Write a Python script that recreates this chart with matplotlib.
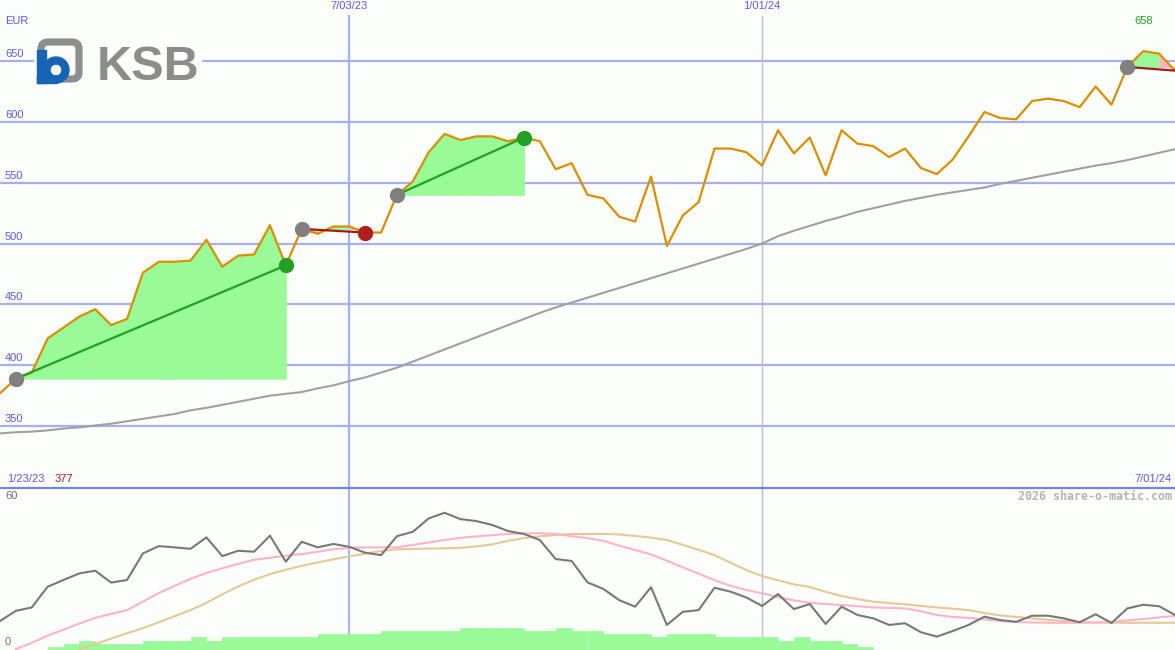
# KSB weekly chart, share-o-matic style

import numpy as np
import pandas as pd
import matplotlib
matplotlib.use('Agg')
import matplotlib.pyplot as plt
import matplotlib.dates as mdates
import matplotlib.transforms as mtrans
from matplotlib.patches import FancyBboxPatch, Rectangle, Wedge

# ---- data (weekly) ----
dates = pd.date_range('2023-01-30', periods=75, freq='7D')

price = [377, 389, 394, 422, 431, 440, 446, 433, 438, 476,
         485, 485, 486, 503, 481, 490, 491, 515, 482, 512,
         508, 514, 514, 509, 509, 540, 551, 575, 590, 585,
         588, 588, 584, 587, 584, 561, 566, 540, 537, 522,
         518, 555, 498, 523, 534, 578, 578, 575, 564, 593,
         574, 587, 556, 593, 582, 580, 571, 578, 562, 557,
         569, 588, 608, 603, 602, 617, 619, 617, 612, 629,
         614, 645, 658, 656, 642]

avg = [344, 345, 345.5, 346.5, 348, 349, 350.5, 352, 354, 356,
       358, 360, 363, 365, 367.5, 370, 372.5, 375, 376.5, 378,
       381, 383.5, 387, 390, 394, 398, 403, 408, 413, 418,
       423, 428, 433, 438, 443, 447.5, 451.5, 455.5, 459.5, 463.5,
       467.5, 471.5, 475.5, 479.5, 483.5, 487.5, 491.5, 495.5, 500, 506,
       510.5, 514.5, 518.5, 522, 526, 529, 532, 535, 537.5, 540,
       542, 544, 546, 549, 551.5, 554, 556.5, 559, 561.5, 564,
       566, 568.5, 571.5, 574.5, 577.5]

osc = [11.5, 15.7, 17.1, 25.6, 28.4, 31.1, 32.2, 27.3, 28.4, 39.3,
       42.3, 41.8, 41.2, 45.9, 38.2, 40.4, 40.0, 46.6, 35.9, 44.1,
       41.8, 43.2, 42.0, 39.6, 38.6, 46.4, 48.2, 53.7, 56.0, 53.4,
       52.6, 51.0, 48.5, 47.3, 44.8, 37.0, 36.2, 27.4, 24.7, 20.1,
       17.4, 25.4, 9.9, 15.3, 16.0, 25.2, 23.6, 21.2, 17.7, 22.6,
       16.4, 18.5, 10.3, 17.4, 14.0, 12.6, 9.9, 10.6, 6.9, 5.1,
       7.4, 9.9, 13.3, 11.9, 11.2, 13.7, 13.7, 12.6, 11.0, 14.3,
       10.7, 16.7, 18.2, 17.6, 14.0]

nan = np.nan
fast = [nan, 0, 2.5, 5.5, 8, 10.5, 12.8, 14.5, 16, 19.5,
        23, 26, 28.8, 31.3, 33.2, 35, 36.7, 37.5, 38.4, 39,
        40, 41, 41.6, 41.8, 41.8, 41.8, 42.8, 43.8, 44.8, 45.7,
        46.3, 46.8, 47.3, 47.5, 47.6, 47.3, 46.4, 45.6, 44.5, 42.5,
        40.7, 38.9, 36.3, 33.6, 31, 28.3, 26, 24.3, 22.9, 21.4,
        20, 19, 18.5, 18.1, 17.6, 17.1, 16.9, 16.7, 15.5, 14,
        13.2, 12.8, 12.2, 11.5, 11.1, 10.9, 10.8, 10.8, 10.8, 10.9,
        11.2, 11.8, 12.3, 13, 13.6]

slow = [nan, nan, nan, nan, nan, 0, 2, 4.3, 6.5, 8.6,
        11, 13.5, 16, 19, 22.5, 25.7, 28.5, 30.8, 32.6, 34.2,
        35.6, 36.9, 38.1, 39.2, 40.3, 41, 41.1, 41.3, 41.4, 41.6,
        42.2, 43, 44.5, 45.6, 46.3, 46.9, 47.3, 47.3, 47.3, 47.1,
        46.5, 45.8, 44.8, 42.8, 40.8, 38.6, 35.5, 32.5, 30, 28.3,
        26.6, 25.5, 23.5, 21.8, 20.5, 19.5, 18.9, 18.4, 17.7, 17.1,
        16.6, 16, 14.8, 13.8, 13.2, 12.6, 12, 11.5, 11.1, 10.9,
        10.8, 10.8, 10.8, 10.8, 10.8]

vol = [0, 0, 0, 1, 2, 3, 2, 2, 2, 3,
       3, 3, 4, 3, 4, 4, 4, 4, 4, 4,
       5, 5, 5, 5, 6, 6, 6, 6, 6, 7,
       7, 7, 7, 6, 6, 7, 6, 6, 5, 5,
       5, 4, 5, 5, 5, 4, 4, 4, 4, 3,
       4, 3, 3, 2, 1, 0, 0, 0, 0, 0,
       0, 0, 0, 0, 0, 0, 0, 0, 0, 0,
       0, 0, 0, 0, 0]

# (start index, end index, still open)
trades = [(1, 18, False), (19, 23, False), (25, 33, False), (71, 74, True)]

ylevels = [350, 400, 450, 500, 550, 600, 650]
vmarks = ['2023-07-03', '2024-01-01']
vlabels = ['7/03/23', '1/01/24']

# ---- style ----
BG = '#fcfefc'
BLUE_TXT = '#5a5af0'
GRID = '#a3b1f2'
ORANGE = '#db8e00'
GREEN_FILL = '#98fb98'
PINK_FILL = '#ffb6c1'
GREEN_LINE = '#22a022'
RED_LINE = '#a01c1c'

x = mdates.date2num(dates.to_pydatetime())
price = np.array(price, dtype=float)
vx = [mdates.date2num(pd.Timestamp(d).to_pydatetime()) for d in vmarks]

W, H = 1175, 650
fig = plt.figure(figsize=(W / 100, H / 100), dpi=100, facecolor=BG)

top_h = 487
ax = fig.add_axes([0, (H - top_h) / H, 1, top_h / H])
ax.set_facecolor(BG)
ax.set_xlim(x[0], x[-1])
ax.set_ylim(300, 700)
for s in ax.spines.values():
    s.set_visible(False)
ax.set_xticks([])
ax.set_yticks([])

for v in ylevels:
    ax.axhline(v, color=GRID, lw=1.6, zorder=1)
ax.axvline(vx[0], ymin=0, ymax=(top_h - 16) / top_h, color=GRID, lw=1.6, zorder=1)
ax.axvline(vx[1], ymin=0, ymax=(top_h - 16) / top_h, color='#b4bbe4', lw=1.0, zorder=1)

# trade fills and lines
for a, b, is_open in trades:
    base = price[a]
    for k in range(a, b):
        c = GREEN_FILL if price[k + 1] >= base else PINK_FILL
        ax.fill_between(x[k:k + 2], price[k:k + 2], base, facecolor=c,
                        edgecolor=c, lw=0.6, zorder=2)

ax.plot(x, avg, color='#a0a0a0', lw=1.5, zorder=3)
ax.plot(x, price, color=ORANGE, lw=1.6, zorder=4)

for a, b, is_open in trades:
    win = price[b] >= price[a]
    lc = GREEN_LINE if win else RED_LINE
    ax.plot([x[a], x[b]], [price[a], price[b]], color=lc, lw=1.6, zorder=5)
    ax.plot(x[a], price[a], 'o', ms=10, color='#808080', zorder=6)
    if not is_open:
        ax.plot(x[b], price[b], 'o', ms=10, color=GREEN_LINE if win else '#b01e1e', zorder=6)

lab = mtrans.blended_transform_factory(ax.transAxes, ax.transData)
lab = mtrans.offset_copy(lab, fig=fig, x=5, y=2, units='dots')
for v in ylevels:
    ax.text(0, v, str(v), transform=lab, ha='left', va='bottom',
            color=BLUE_TXT, fontsize=8, family='Liberation Sans', zorder=7)

toplab = mtrans.blended_transform_factory(ax.transData, ax.transAxes)
for xv, t in zip(vx, vlabels):
    ax.text(xv, 0.997, t, transform=toplab, ha='center', va='top',
            color=BLUE_TXT, fontsize=8, family='Liberation Sans')

imax = int(np.argmax(price))
ax.text(x[imax], 1 - 21 / top_h, '%d' % price[imax], transform=toplab, ha='center',
        va='center', color=GREEN_LINE, fontsize=8, family='Liberation Sans')

# ---- lower panel ----
bot_h = H - top_h - 1
rect = [0, 0, 1, bot_h / H]
axv = fig.add_axes(rect)
axv.set_facecolor(BG)
axv.set_xlim(x[0], x[-1])
axv.set_ylim(0, bot_h / 3.15)
axv.axis('off')
axv.axvline(vx[0], color=GRID, lw=1.4, zorder=0)
axv.axvline(vx[1], color='#b4bbe4', lw=1.0, zorder=0)
axv.bar(x, vol, width=7, align='edge', color=GREEN_FILL, edgecolor=GREEN_FILL, lw=0.5, zorder=1)

ax2 = fig.add_axes(rect)
ax2.patch.set_alpha(0)
ax2.set_xlim(x[0], x[-1])
ax2.set_ylim(-0.4, 66.2)
ax2.set_xticks([])
ax2.set_yticks([])
for s in ax2.spines.values():
    s.set_visible(False)
ax2.spines['top'].set_visible(True)
ax2.spines['top'].set_color('#7383ee')
ax2.spines['top'].set_linewidth(1.6)

ax2.plot(x, slow, color='#e6c896', lw=1.5, zorder=3)
ax2.plot(x, fast, color='#ffb3c8', lw=1.5, zorder=3)
ax2.plot(x, osc, color='#787878', lw=1.5, zorder=4)

lab2 = mtrans.offset_copy(mtrans.blended_transform_factory(ax2.transAxes, ax2.transData),
                          fig=fig, x=5, y=2, units='dots')
for v in [0, 60]:
    ax2.text(0, v, str(v), transform=lab2, ha='left', va='bottom', color='#707070',
             fontsize=8, family='Liberation Sans')

# ---- overlay: logo and captions ----
ov = fig.add_axes([0, 0, 1, 1])
ov.set_xlim(0, W)
ov.set_ylim(H, 0)
ov.axis('off')
ov.patch.set_alpha(0)

ov.add_patch(Rectangle((34, 36), 167, 50, color=BG, zorder=1))
ov.add_patch(FancyBboxPatch((41, 42), 38, 37, boxstyle='round,pad=0,rounding_size=7',
                            facecolor=BG, edgecolor='#8e8e8e', lw=5.2, zorder=2))
ov.add_patch(Rectangle((37, 50), 9, 33, color='#1664b4', zorder=3))
ov.add_patch(Wedge((56, 70), 13, 0, 360, width=7, color='#1664b4', zorder=3))
ov.add_patch(Rectangle((37, 76), 20, 7, color='#1664b4', zorder=3))
ov.text(97, 80, 'KSB', fontsize=35, fontweight='bold', color='#8c8c8c',
        family='Liberation Sans', va='baseline', ha='left', zorder=3)

ov.text(5, 21, 'EUR', color=BLUE_TXT, fontsize=8, family='Liberation Sans', va='center')
ov.text(7, 479, '1/23/23', color=BLUE_TXT, fontsize=8, family='Liberation Sans', va='center')
ov.text(55, 479, '%d' % price[0], color='#a02020', fontsize=8, family='Liberation Sans', va='center')
ov.text(1172, 479, dates[-1].strftime('%-m/%d/%y'), color=BLUE_TXT, fontsize=8,
        family='Liberation Sans', va='center', ha='right')
ov.text(1172, 496, '2026 share-o-matic.com', color='#b4b4b4', fontsize=8.4,
        family='DejaVu Sans Mono', fontweight='bold', va='center', ha='right')

fig.savefig('out.png', dpi=100, facecolor=BG)
